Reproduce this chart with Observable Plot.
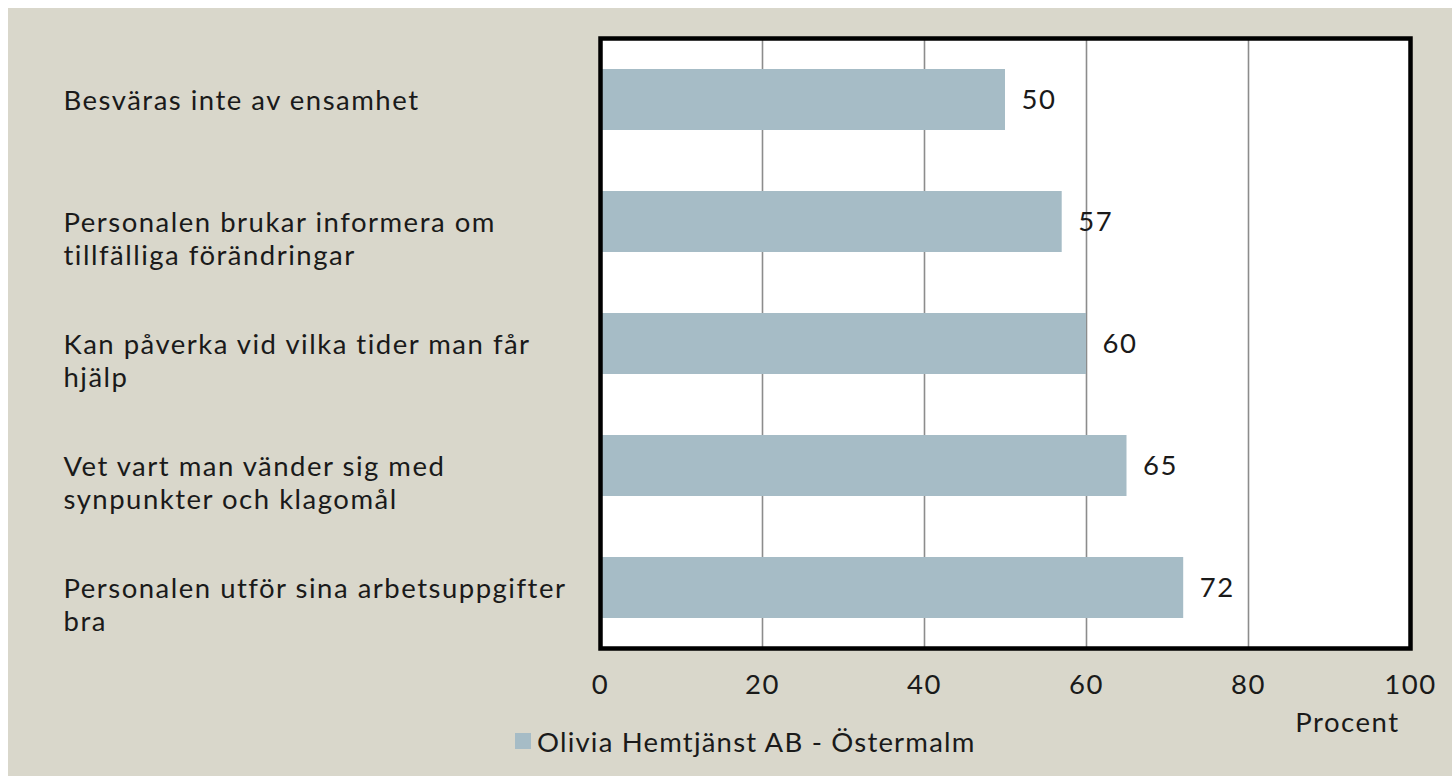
<!DOCTYPE html>
<html>
<head>
<meta charset="utf-8">
<script src="https://cdn.jsdelivr.net/npm/d3@7"></script>
<script src="https://cdn.jsdelivr.net/npm/@observablehq/plot@0.6"></script>
<style>
  html, body { margin: 0; padding: 0; background: #ffffff; overflow: hidden; }
  #wrap { position: relative; margin: 8px 0 0 8px; width: 1444px; height: 768px; background: #d9d7cb; overflow: hidden; font-family: Lato, sans-serif; color: #1a1a1a; }
  #chart svg { display: block; }
  #legend { position: absolute; left: 507px; top: 721px; height: 24px; display: flex; align-items: center; font-size: 27.5px; letter-spacing: 1.2px; white-space: nowrap; }
  #legend .sw { width: 16px; height: 16px; background: #a6bcc6; margin-right: 6px; }
</style>
</head>
<body>
<div id="wrap">
  <div id="chart"></div>
  <div id="legend"><span class="sw"></span><span id="legendText"></span></div>
</div>
<script>
const categories = [
  "Besväras inte av ensamhet",
  "Personalen brukar informera om tillfälliga förändringar",
  "Kan påverka vid vilka tider man får hjälp",
  "Vet vart man vänder sig med synpunkter och klagomål",
  "Personalen utför sina arbetsuppgifter bra"
];
const categoryLabels = [
  "Besväras inte av ensamhet",
  "Personalen brukar informera om\ntillfälliga förändringar",
  "Kan påverka vid vilka tider man får\nhjälp",
  "Vet vart man vänder sig med\nsynpunkter och klagomål",
  "Personalen utför sina arbetsuppgifter\nbra"
];
const values = [50, 57, 60, 65, 72];
const xTicks = [0, 20, 40, 60, 80, 100];
const gridTicks = [20, 40, 60, 80];
const seriesName = "Olivia Hemtjänst AB - Östermalm";
const axisTitle = "Procent";

const data = categories.map((c, i) => ({category: c, value: values[i]}));
const labelOf = new Map(categories.map((c, i) => [c, categoryLabels[i]]));

const FS = 27.5;
const chart = Plot.plot({
  width: 1444,
  height: 740,
  marginLeft: 592,
  marginRight: 42,
  marginTop: 30,
  marginBottom: 100,
  x: {domain: [0, 100], label: null},
  y: {domain: categories, paddingInner: 0.5, paddingOuter: 0.25, label: null},
  style: {background: "transparent", fontFamily: "Lato, sans-serif", fontSize: FS + "px", color: "#1a1a1a", overflow: "visible", letterSpacing: "1.5px"},
  marks: [
    Plot.frame({fill: "#ffffff"}),
    Plot.gridX(gridTicks, {stroke: "#8c8c8c", strokeOpacity: 1, strokeWidth: 1.6}),
    Plot.barX(data, {x: "value", y: "category", fill: "#a6bcc6"}),
    Plot.text(data, {x: "value", y: "category", text: d => String(d.value), textAnchor: "start", dx: 16, fontSize: FS, fill: "#1a1a1a"}),
    Plot.axisX(xTicks, {tickSize: 0, tickPadding: 26, fontSize: FS, label: null, tickFormat: d => String(d)}),
    Plot.axisY({tickSize: 0, tickPadding: 0, textAnchor: "start", dx: -537, lineAnchor: "top", dy: -13, lineHeight: 1.2, fontSize: FS, label: null, tickFormat: c => labelOf.get(c)}),
    Plot.frame({stroke: "#000000", strokeWidth: 4.5}),
    Plot.text([axisTitle], {frameAnchor: "bottom-right", textAnchor: "end", lineAnchor: "top", dx: -11, dy: 64, fontSize: FS, fill: "#1a1a1a"})
  ]
});
document.getElementById("chart").appendChild(chart);
document.getElementById("legendText").textContent = seriesName;
</script>
</body>
</html>
